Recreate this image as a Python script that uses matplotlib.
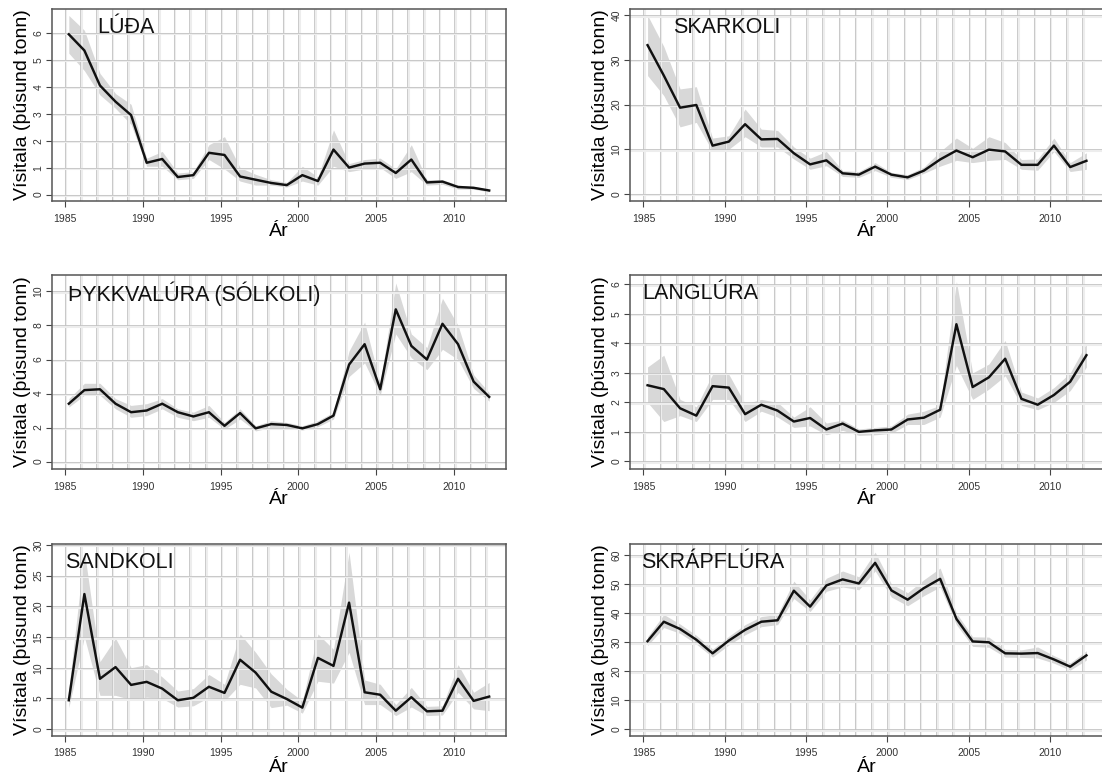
import matplotlib
matplotlib.use('Agg')
import matplotlib.pyplot as plt
import matplotlib.transforms as mtransforms
import numpy as np

plt.rcParams['font.family'] = ['Liberation Sans', 'DejaVu Sans']

# ár (mælingar merktar um mars, þ.e. ár + 0.25)
ar = np.arange(1985, 2013)

# LÚÐA
luda = [5.95, 5.35, 4.05, 3.45, 2.95, 1.18, 1.32, 0.65, 0.72, 1.55, 1.47, 0.67, 0.55, 0.43,
        0.35, 0.72, 0.50, 1.67, 1.00, 1.15, 1.18, 0.80, 1.30, 0.45, 0.48, 0.28, 0.25, 0.15]
luda_lo = [5.25, 4.6, 3.7, 3.2, 2.6, 1.05, 1.05, 0.55, 0.6, 1.3, 0.95, 0.5, 0.35, 0.35,
           0.28, 0.5, 0.35, 1.05, 0.85, 0.95, 1.0, 0.6, 0.85, 0.35, 0.38, 0.2, 0.2, 0.1]
luda_hi = [6.65, 6.1, 4.5, 3.75, 3.35, 1.35, 1.6, 0.8, 0.85, 1.85, 2.15, 1.0, 0.75, 0.55,
           0.45, 1.05, 0.65, 2.4, 1.15, 1.3, 1.35, 0.95, 1.85, 0.55, 0.55, 0.35, 0.3, 0.2]

# SKARKOLI
skarkoli = [33.3, 26.5, 19.3, 19.9, 10.8, 11.7, 15.6, 12.2, 12.3, 9.1, 6.6, 7.5, 4.6, 4.3,
            6.1, 4.3, 3.7, 5.2, 7.7, 9.7, 8.2, 9.9, 9.5, 6.5, 6.5, 10.8, 6.0, 7.4]
skarkoli_lo = [26.5, 22, 15, 16, 9.5, 10, 12.8, 10.5, 10.5, 7.8, 5.5, 6.3, 3.9, 3.7,
               5.2, 3.7, 3.2, 4.6, 6.2, 7.5, 7, 7.5, 7.7, 5.5, 5.3, 9.5, 5.0, 5.5]
skarkoli_hi = [40, 33, 23.5, 24, 12.5, 13, 19, 14.5, 14.2, 10.5, 8, 9.5, 5.2, 5.0,
               7, 4.8, 4.3, 6.0, 9.5, 12.5, 10.2, 12.8, 11.5, 7.7, 7.8, 12.5, 7.0, 9.2]

# ÞYKKVALÚRA (SÓLKOLI)
thykk = [3.4, 4.2, 4.25, 3.4, 2.9, 3.0, 3.4, 2.9, 2.65, 2.9, 2.1, 2.85, 1.95, 2.2,
         2.15, 1.95, 2.2, 2.7, 5.7, 6.9, 4.25, 8.95, 6.8, 6.0, 8.1, 6.9, 4.7, 3.8]
thykk_lo = [3.2, 3.9, 3.9, 3.1, 2.6, 2.7, 3.1, 2.6, 2.4, 2.6, 1.9, 2.5, 1.8, 2.0,
            2.0, 1.85, 2.05, 2.5, 5.0, 5.8, 3.9, 7.5, 6.1, 5.4, 6.6, 6.0, 4.3, 3.55]
thykk_hi = [3.7, 4.6, 4.6, 3.7, 3.3, 3.4, 3.7, 3.1, 2.9, 3.3, 2.3, 3.1, 2.1, 2.4,
            2.3, 2.1, 2.4, 2.9, 6.5, 8.2, 4.6, 10.5, 7.5, 6.7, 9.6, 8.0, 5.1, 4.05]

# LANGLÚRA
langlura = [2.58, 2.45, 1.8, 1.55, 2.55, 2.5, 1.6, 1.92, 1.72, 1.35, 1.47, 1.08, 1.28, 1.0,
            1.05, 1.08, 1.42, 1.48, 1.75, 4.65, 2.52, 2.85, 3.48, 2.12, 1.92, 2.25, 2.7, 3.6]
langlura_lo = [2.0, 1.35, 1.55, 1.35, 2.1, 2.1, 1.35, 1.7, 1.5, 1.15, 1.2, 0.9, 1.05, 0.88,
               0.9, 0.95, 1.25, 1.25, 1.5, 3.25, 2.1, 2.45, 2.9, 1.9, 1.75, 2.0, 2.4, 3.2]
langlura_hi = [3.2, 3.6, 2.1, 1.85, 2.95, 2.95, 1.95, 2.1, 2.0, 1.5, 1.85, 1.3, 1.4, 1.1,
               1.15, 1.2, 1.6, 1.7, 1.9, 6.1, 3.0, 3.3, 4.1, 2.35, 2.15, 2.5, 3.0, 4.0]

# SANDKOLI
sandkoli = [4.7, 22.0, 8.2, 10.1, 7.2, 7.7, 6.6, 4.7, 5.1, 6.9, 5.9, 11.3, 9.2, 6.1,
            4.9, 3.5, 11.6, 10.3, 20.6, 6.0, 5.6, 3.0, 5.2, 2.9, 3.0, 8.2, 4.6, 5.3]
sandkoli_lo = [3.5, 15, 5.5, 5.5, 4.8, 5.2, 5.0, 3.6, 3.8, 5.2, 4.6, 7.3, 6.7, 3.5,
               3.9, 2.6, 7.8, 7.5, 12.5, 4.0, 4.0, 2.2, 3.6, 2.2, 2.3, 6.0, 3.3, 3.0]
sandkoli_hi = [6.5, 29, 11, 14.8, 10, 10.5, 8.5, 6.2, 6.6, 8.9, 7.3, 15.5, 12.5, 9.0,
               6.5, 4.6, 15.5, 13.0, 28.8, 8.0, 7.3, 4.0, 6.8, 3.7, 3.8, 10.5, 6.0, 7.6]

# SKRÁPFLÚRA
skrap = [30.3, 37.0, 34.5, 30.8, 26.1, 30.5, 34.2, 37.0, 37.5, 47.7, 42.2, 49.5, 51.6, 50.2,
         57.3, 47.8, 44.6, 48.6, 51.8, 38.0, 30.2, 29.9, 26.1, 26.0, 26.2, 24.0, 21.5, 25.4]
skrap_lo = [28.8, 35.0, 33.0, 29.3, 24.8, 29.0, 32.5, 35.3, 36.0, 45.0, 40.5, 47.5, 49.0, 48.0,
            54.5, 45.5, 42.5, 46.0, 49.0, 36.0, 28.5, 28.2, 24.8, 24.7, 24.5, 22.7, 20.3, 23.8]
skrap_hi = [31.8, 39.5, 36.2, 32.3, 27.6, 32.0, 36.0, 38.8, 39.5, 51.0, 44.5, 52.0, 54.5, 52.5,
            61.0, 50.0, 47.0, 51.5, 55.5, 40.0, 31.8, 31.7, 27.5, 27.3, 28.3, 25.3, 22.8, 27.0]

titlar = ['LÚÐA', 'SKARKOLI', 'ÞYKKVALÚRA (SÓLKOLI)', 'LANGLÚRA', 'SANDKOLI', 'SKRÁPFLÚRA']
y_tiklar = [np.arange(0, 7, 1), np.arange(0, 41, 10), np.arange(0, 11, 2),
            np.arange(0, 7, 1), np.arange(0, 31, 5), np.arange(0, 61, 10)]
x_tiklar = np.arange(1985, 2011, 5)

gogn = [(luda, luda_lo, luda_hi), (skarkoli, skarkoli_lo, skarkoli_hi),
        (thykk, thykk_lo, thykk_hi), (langlura, langlura_lo, langlura_hi),
        (sandkoli, sandkoli_lo, sandkoli_hi), (skrap, skrap_lo, skrap_hi)]

# útlit: staðsetning ramma í pixlum (vinstri, efri, breidd, hæð)
W, H = 1102, 778
rammar = [(52, 9, 454, 192), (630, 9, 474, 192),
          (52, 275, 454, 194), (630, 275, 474, 194),
          (52, 544, 454, 192), (630, 544, 474, 192)]
ylims = [(-0.24, 6.89), (-1.6, 41.4), (-0.44, 10.97),
         (-0.26, 6.32), (-1.12, 30.15), (-2.4, 63.8)]
titil_x = [0.099, 0.09, 0.036, 0.026, 0.029, 0.024]

fig = plt.figure(figsize=(W / 100, H / 100), dpi=100)

for i in range(6):
    l, t, w, h = rammar[i]
    ax = fig.add_axes([l / W, 1 - (t + h) / H, w / W, h / H])
    gildi, lagt, hatt = gogn[i]
    xx = ar + 0.25

    ax.fill_between(xx, lagt, hatt, color='#d8d8d8', lw=0, zorder=1)

    # rúðunet: ljós lína og dekkri mjó lína
    ljos_x = mtransforms.offset_copy(ax.get_xaxis_transform(), fig=fig, x=1.5, units='dots')
    ljos_y = mtransforms.offset_copy(ax.get_yaxis_transform(), fig=fig, y=-1.5, units='dots')
    ax.vlines(ar, 0, 1, transform=ljos_x, colors='#ededed', lw=1.5, zorder=2)
    ax.vlines(ar, 0, 1, transform=ax.get_xaxis_transform(), colors='#c2c2c2', lw=0.6, zorder=2)
    ax.hlines(y_tiklar[i], 0, 1, transform=ljos_y, colors='#ededed', lw=1.5, zorder=2)
    ax.hlines(y_tiklar[i], 0, 1, transform=ax.get_yaxis_transform(), colors='#c2c2c2', lw=0.6, zorder=2)

    ax.plot(xx, gildi, color='#111111', lw=1.75, zorder=3)

    ax.set_xlim(1984.17, 2013.33)
    ax.set_ylim(*ylims[i])
    ax.set_xticks(x_tiklar)
    ax.set_yticks(y_tiklar[i])
    ax.tick_params(axis='both', direction='out', length=4, width=0.8, color='#444444',
                   labelsize=7.5, labelcolor='#333333')
    ax.tick_params(axis='x', pad=5)
    ax.tick_params(axis='y', pad=2, labelrotation=90)
    for lab in ax.get_yticklabels():
        lab.set_verticalalignment('center')
    for s in ax.spines.values():
        s.set_color('#555555')
        s.set_linewidth(1.1)

    ax.set_xlabel('Ár', fontsize=14, labelpad=0)
    ax.set_ylabel('Vísitala (þúsund tonn)', fontsize=14, labelpad=2)
    ax.text(titil_x[i], 0.905, titlar[i], transform=ax.transAxes, ha='left', va='center',
            fontsize=15.5, color='#111111', zorder=4)

fig.savefig('out.png', dpi=100)
